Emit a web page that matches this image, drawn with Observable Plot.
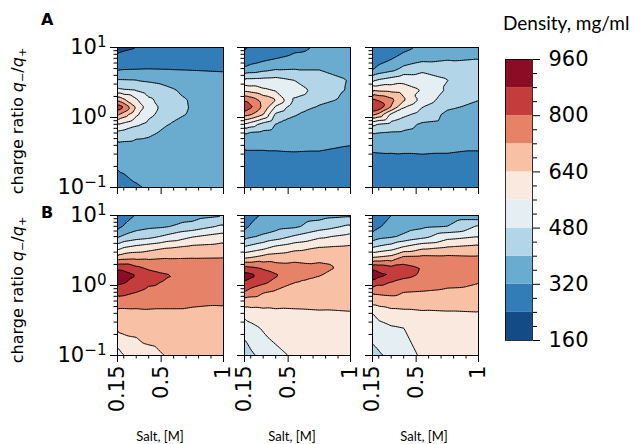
<!DOCTYPE html>
<html><head><meta charset="utf-8">
<script src="https://cdn.jsdelivr.net/npm/d3@7"></script>
<script src="https://cdn.jsdelivr.net/npm/@observablehq/plot@0.6"></script>
<style>
body{margin:0;background:#fff;}
#fig{position:relative;width:636px;height:444px;overflow:hidden;font-family:"DejaVu Sans";color:#000;}
#fig svg{position:absolute;overflow:visible;}
.t{position:absolute;white-space:nowrap;line-height:1;}
.c{transform:translate(-50%,-50%);}
.r{transform:translate(-50%,-50%) rotate(-90deg);}
</style></head><body><div id="fig"></div>
<script>
// ---- data ----
const salt = [0.15, 0.2, 0.3, 0.4, 0.55, 0.75, 1.0];            // Salt, [M]
const ratio = [10, 7, 5, 3.5, 2.5, 1.8, 1.4, 1.1, 0.8, 0.6, 0.4, 0.25, 0.1]; // q-/q+
const thresholds = [160, 240, 320, 400, 480, 560, 640, 720, 800, 880, 960];
const bandColors = ["#134b86","#327cb7","#6aacd0","#b2d5e7","#e4eef3","#fae9df","#f8c0a4","#e58267","#c43c3c","#8c0c25"];
const yMajorTicks = [0.1, 1, 10];
const yMajorLabels = ["10^−1", "10^0", "10^1"];
const yMinorTicks = [0.2,0.3,0.4,0.5,0.6,0.7,0.8,0.9,2,3,4,5,6,7,8,9];
const xMajorTicks = [0.15, 0.5, 1];
const xMajorLabels = ["0.15", "0.5", "1"];
const xMinorTicks = [0.2,0.3,0.4,0.6,0.7,0.8,0.9];
const cbMajorTicks = [160, 320, 480, 640, 800, 960];
const cbMinorTicks = [200,240,280,360,400,440,520,560,600,680,720,760,840,880,920];
// density, mg/ml: one inner list per salt value, ratio from 10 down to 0.1
const densityA1 = [
  [215,267,305,399,495,702,860,733,563,460,382,337,290],
  [225,270,312,398,480,650,805,680,540,450,378,340,300],
  [238,275,315,395,470,570,635,575,495,425,375,345,315],
  [245,278,318,388,435,495,515,500,458,415,372,350,325],
  [250,280,316,375,412,440,448,438,402,382,365,355,340],
  [260,285,312,362,378,390,392,386,378,372,365,360,350],
  [265,288,305,355,370,378,380,378,372,368,365,360,352]];
const densityA2 = [
  [232,275,330,490,615,785,870,750,555,410,328,305,285],
  [245,285,345,490,600,760,815,725,520,390,328,305,288],
  [255,300,370,495,570,690,700,640,450,380,328,305,288],
  [265,318,390,500,545,645,545,465,398,375,328,307,290],
  [300,340,395,475,530,470,430,403,385,372,330,308,290],
  [330,350,395,435,440,420,392,380,372,365,328,308,290],
  [335,350,375,395,392,385,378,372,365,355,320,306,288]];
const densityA3 = [
  [250,282,313,455,625,815,870,738,505,405,335,305,280],
  [262,295,335,478,615,790,855,695,475,398,336,306,283],
  [275,315,365,505,610,740,715,540,455,392,335,308,285],
  [300,345,420,530,600,655,565,500,425,390,333,310,288],
  [335,375,455,525,555,530,480,445,390,375,333,312,290],
  [345,390,445,482,470,440,410,385,375,365,330,312,290],
  [355,398,430,445,430,402,385,375,365,358,325,312,290]];
const densityB1 = [
  [245,295,390,526,681,862,920,895,837,760,697,657,520],
  [290,325,413,558,692,860,905,885,830,755,697,665,560],
  [325,370,440,585,700,815,880,855,800,752,700,672,580],
  [340,385,455,605,705,785,835,815,775,750,705,680,615],
  [350,395,500,635,715,770,805,790,770,745,705,690,645],
  [365,430,555,660,718,760,775,770,760,735,705,695,665],
  [395,495,595,675,720,750,760,758,750,728,708,695,675]];
const densityB2 = [
  [245,295,375,490,628,822,915,870,795,685,595,505,445],
  [290,330,390,505,640,810,900,850,765,680,605,535,465],
  [335,355,415,535,670,785,845,815,725,675,615,570,505],
  [345,370,440,578,680,760,810,775,705,670,622,590,540],
  [355,385,490,612,695,750,760,720,690,665,625,605,570],
  [370,440,545,642,705,735,722,705,690,668,630,610,590],
  [390,495,585,655,690,705,700,695,680,665,635,615,600]];
const densityB3 = [
  [245,288,350,479,642,862,925,860,733,675,560,515,455],
  [270,310,375,495,650,850,900,825,735,680,585,535,468],
  [320,355,390,520,670,820,878,795,740,690,608,553,505],
  [335,365,415,570,740,830,820,775,720,690,615,560,530],
  [340,385,455,620,745,795,790,760,715,690,625,600,570],
  [345,400,530,645,740,765,760,740,705,685,630,605,590],
  [345,490,560,665,732,750,742,722,700,682,635,615,600]];
const panelData = [[densityA1, densityA2, densityA3], [densityB1, densityB2, densityB3]];

// ---- layout ----
const fig = document.getElementById("fig");
const L = [117, 244, 372], T = [47, 215], W = 106, H = 140;
const colorScale = {type: "threshold", domain: thresholds.slice(1, -1), range: bandColors};
const blank = () => "";
const tidy = (density) => density.flatMap((col, i) => col.map((v, j) => ({salt: salt[i], ratio: ratio[j], v})));

function place(el, left, top) { el.style.left = left + "px"; el.style.top = top + "px"; fig.appendChild(el); }

function superscripts(svg) {
  svg.querySelectorAll("text").forEach((t) => {
    const m = /^10\^(.+)$/.exec(t.textContent);
    if (!m) return;
    t.textContent = "10";
    const ts = document.createElementNS("http://www.w3.org/2000/svg", "tspan");
    ts.setAttribute("dy", "-0.45em");
    ts.style.fontSize = "0.72em";
    ts.textContent = m[1];
    t.appendChild(ts);
  });
}

for (let row = 0; row < 2; row++) {
  for (let col = 0; col < 3; col++) {
    const ml = col === 0 ? L[0] : 12, mt = 6, mr = 8, mb = row === 1 ? 80 : 14;
    const svg = Plot.plot({
      width: ml + W + mr, height: mt + H + mb,
      marginLeft: ml, marginRight: mr, marginTop: mt, marginBottom: mb,
      x: {domain: [0.15, 1]},
      y: {type: "log", domain: [0.1, 10]},
      color: colorScale,
      style: {fontFamily: "DejaVu Sans", fontSize: "21px", background: "transparent", color: "black"},
      marks: [
        Plot.contour(tidy(panelData[row][col]), {x: "salt", y: "ratio", fill: "v", thresholds, interpolate: "barycentric", stroke: "black", strokeWidth: 1}),
        Plot.frame({stroke: "black", strokeWidth: 1}),
        Plot.axisY(yMinorTicks, {tickSize: 3.5, tickFormat: blank, label: null}),
        Plot.axisY(yMajorTicks, {tickSize: 7, tickPadding: 4, label: null, fontSize: 21,
          tickFormat: col === 0 ? (d) => yMajorLabels[yMajorTicks.indexOf(d)] : blank}),
        Plot.axisX(xMinorTicks, {tickSize: 3.5, tickFormat: blank, label: null}),
        Plot.axisX(xMajorTicks, {tickSize: 7, tickPadding: 3, label: null, fontSize: 21, tickRotate: -90,
          tickFormat: row === 1 ? (d) => xMajorLabels[xMajorTicks.indexOf(d)] : blank})
      ]
    });
    superscripts(svg);
    place(svg, L[col] - ml, T[row] - mt);
  }
}

// colorbar
const bands = thresholds.slice(0, -1).map((t, i) => ({lo: t, hi: thresholds[i + 1]}));
const cbL = 505, cbT = 59, cbW = 27, cbH = 281;
const cb = Plot.plot({
  width: 5 + cbW + 100, height: 8 + cbH + 20,
  marginLeft: 5, marginRight: 100, marginTop: 8, marginBottom: 20,
  y: {domain: [160, 960]},
  color: colorScale,
  style: {fontFamily: "DejaVu Sans", fontSize: "21px", background: "transparent", color: "black"},
  marks: [
    Plot.barY(bands, {y1: "lo", y2: "hi", fill: "lo", inset: 0}),
    Plot.frame({stroke: "black", strokeWidth: 0.8}),
    Plot.axisY(cbMinorTicks, {anchor: "right", tickSize: 4, tickFormat: blank, label: null}),
    Plot.axisY(cbMajorTicks, {anchor: "right", tickSize: 7, tickPadding: 9, label: null, fontSize: 21, tickFormat: d3.format("d")})
  ]
});
place(cb, cbL - 5, cbT - 8);

// texts
function text(html, cls, left, top, style) {
  const d = document.createElement("div");
  d.className = "t " + cls; d.innerHTML = html; Object.assign(d.style, style || {});
  place(d, left, top);
}
text("A", "", 41, 12, {fontWeight: "bold", fontSize: "16px"});
text("B", "", 41, 205, {fontWeight: "bold", fontSize: "16px"});
const ylab = 'charge ratio <i>q</i><sub style="font-size:0.7em;vertical-align:-0.25em">−</sub>/<i>q</i><sub style="font-size:0.7em;vertical-align:-0.25em">+</sub>';
text(ylab, "r", 19, 121, {fontSize: "16px"});
text(ylab, "r", 19, 290, {fontSize: "16px"});
for (const cx of [160, 292, 424]) text("Salt, [M]", "c", cx, 436, {fontFamily: "Lato", fontSize: "13px"});
text("Density, mg/ml", "", 503, 13, {fontFamily: "Lato", fontSize: "19px"});
</script></body></html>
